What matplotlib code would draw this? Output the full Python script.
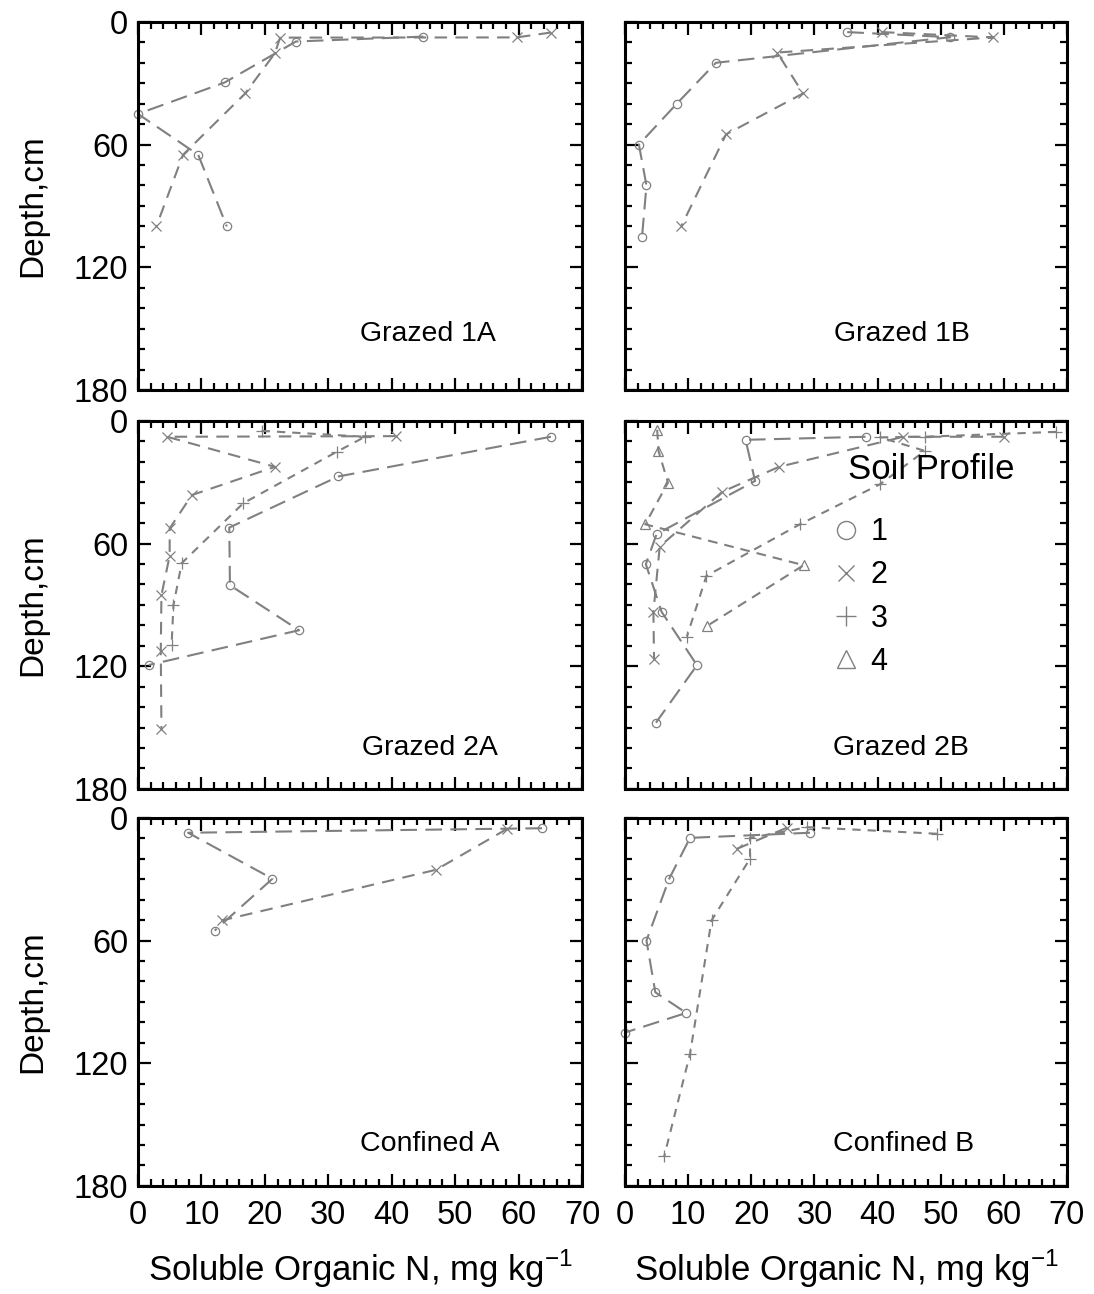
import matplotlib
matplotlib.use("Agg")
import matplotlib.pyplot as plt
from matplotlib.lines import Line2D
from matplotlib.ticker import MultipleLocator

plt.rcParams['font.family'] = ['Liberation Sans', 'DejaVu Sans']
plt.rcParams['lines.scale_dashes'] = False

# --- data: soluble organic N (mg/kg) vs depth (cm), per soil profile ---
g1a_p1_n = [45.0, 24.9, 13.7, 0.0, 9.5, 14.0]
g1a_p1_d = [7.2, 9.6, 29.6, 45.0, 65.0, 100.0]
g1a_p2_n = [65.1, 59.7, 22.4, 21.6, 16.9, 7.1, 2.9]
g1a_p2_d = [5.2, 7.6, 7.7, 15.3, 35.0, 65.0, 100.0]

g1b_p1_n = [35.2, 51.5, 14.4, 8.2, 2.2, 3.4, 2.7]
g1b_p1_d = [5.0, 7.5, 20.0, 40.0, 60.0, 80.0, 105.0]
g1b_p2_n = [40.7, 58.3, 24.1, 28.2, 16.0, 8.9]
g1b_p2_d = [5.0, 7.6, 15.0, 35.0, 55.0, 100.0]

g2a_p1_n = [65.1, 31.6, 14.4, 14.5, 25.4, 1.7]
g2a_p1_d = [7.8, 27.2, 52.2, 80.4, 102.4, 119.4]
g2a_p2_n = [40.6, 4.6, 21.6, 8.5, 5.0, 5.0, 3.7, 3.6, 3.7]
g2a_p2_d = [7.5, 7.8, 22.5, 36.3, 52.6, 65.9, 85.3, 112.5, 150.8]
g2a_p3_n = [19.5, 35.8, 31.3, 16.6, 6.9, 5.6, 5.3]
g2a_p3_d = [4.9, 7.8, 15.2, 40.3, 69.6, 90.0, 109.6]

g2b_p1_n = [38.1, 19.1, 20.6, 5.0, 3.3, 5.8, 11.4, 4.9]
g2b_p1_d = [7.8, 9.3, 29.4, 55.4, 70.1, 93.4, 119.5, 147.6]
g2b_p2_n = [60.0, 44.1, 24.4, 15.4, 5.5, 4.5, 4.6]
g2b_p2_d = [7.8, 7.8, 22.5, 34.7, 61.5, 93.4, 116.6]
g2b_p3_n = [68.3, 47.5, 40.4, 47.5, 40.4, 27.7, 12.9, 9.8]
g2b_p3_d = [5.4, 7.8, 8.1, 14.7, 31.0, 50.6, 75.8, 105.5]
g2b_p4_n = [5.1, 5.3, 6.8, 3.2, 28.3, 13.0]
g2b_p4_d = [4.4, 14.7, 30.2, 50.6, 70.6, 100.3]

ca_p1_n = [63.7, 7.9, 21.2, 12.1]
ca_p1_d = [5.1, 7.3, 29.8, 55.1]
ca_p2_n = [58.2, 47.0, 13.2]
ca_p2_d = [5.4, 25.4, 50.2]

cb_p1_n = [29.3, 10.3, 7.0, 3.4, 4.8, 9.7, 0.0]
cb_p1_d = [7.3, 9.8, 29.8, 60.0, 85.3, 95.4, 105.0]
cb_p2_n = [25.6, 17.7]
cb_p2_d = [4.9, 15.2]
cb_p3_n = [49.4, 28.9, 19.8, 19.8, 13.7, 10.3, 6.2]
cb_p3_d = [7.8, 4.6, 9.8, 20.0, 50.2, 115.4, 165.6]

panel_names = ['Grazed 1A', 'Grazed 1B', 'Grazed 2A', 'Grazed 2B', 'Confined A', 'Confined B']
profile_labels = ['1', '2', '3', '4']

panels = [
    {1: (g1a_p1_n, g1a_p1_d), 2: (g1a_p2_n, g1a_p2_d)},
    {1: (g1b_p1_n, g1b_p1_d), 2: (g1b_p2_n, g1b_p2_d)},
    {1: (g2a_p1_n, g2a_p1_d), 2: (g2a_p2_n, g2a_p2_d), 3: (g2a_p3_n, g2a_p3_d)},
    {1: (g2b_p1_n, g2b_p1_d), 2: (g2b_p2_n, g2b_p2_d), 3: (g2b_p3_n, g2b_p3_d),
     4: (g2b_p4_n, g2b_p4_d)},
    {1: (ca_p1_n, ca_p1_d), 2: (ca_p2_n, ca_p2_d)},
    {1: (cb_p1_n, cb_p1_d), 2: (cb_p2_n, cb_p2_d), 3: (cb_p3_n, cb_p3_d)},
]

# --- styles ---
grey = '#808080'
markers = {1: 'o', 2: 'x', 3: '+', 4: '^'}
msizes = {1: 6, 2: 6.5, 3: 8, 4: 6.5}
leg_sizes = {1: 13, 2: 11, 3: 15, 4: 13}
dashes = {1: (12, 6), 2: (9, 6), 3: (6, 5), 4: (7, 5)}

fig = plt.figure(figsize=(10.94, 12.94), dpi=100)
lefts = [0.1261, 0.5713]
widths = [0.4059, 0.4040]
bottoms = [0.6986, 0.3903, 0.0835]
height = 0.2845
label_pos = [(0.653, 0.133), (0.627, 0.133), (0.657, 0.092),
             (0.624, 0.092), (0.658, 0.095), (0.630, 0.095)]

axes = []
for i, series in enumerate(panels):
    row, col = divmod(i, 2)
    ax = fig.add_axes([lefts[col], bottoms[row], widths[col], height])
    axes.append(ax)
    for p, (n, d) in series.items():
        ax.plot(n, d, color=grey, lw=1.5, dashes=dashes[p], marker=markers[p],
                ms=msizes[p], mfc='none', mec=grey, mew=0.9, clip_on=False)
    ax.set_xlim(0, 70)
    ax.set_ylim(180, 0)
    ax.xaxis.set_major_locator(MultipleLocator(10))
    ax.xaxis.set_minor_locator(MultipleLocator(2))
    ax.yaxis.set_major_locator(MultipleLocator(60))
    ax.yaxis.set_minor_locator(MultipleLocator(10))
    ax.tick_params(which='both', direction='in', top=True, right=True,
                   width=1.6, labelsize=23.5)
    ax.tick_params(which='major', length=9)
    ax.tick_params(axis='x', which='major', pad=10)
    ax.tick_params(axis='y', which='major', pad=7)
    ax.tick_params(which='minor', length=5)
    for s in ax.spines.values():
        s.set_linewidth(2.2)
    if row < 2:
        ax.tick_params(labelbottom=False)
    else:
        ax.set_xlabel('Soluble Organic N, mg kg$^{\\mathregular{-1}}$',
                      fontsize=25, labelpad=12)
    if col == 1:
        ax.tick_params(labelleft=False)
    else:
        ax.set_ylabel('Depth,cm', fontsize=24, labelpad=18)
    lx, ly = label_pos[i]
    ax.text(lx, ly, panel_names[i], transform=ax.transAxes, fontsize=20.5,
            ha='center', va='baseline')

# legend for the soil profiles, in the Grazed 2B panel
leg_ax = axes[3]
leg_ax.text(0.5045, 0.843, 'Soil Profile', transform=leg_ax.transAxes,
            fontsize=25, ha='left', va='baseline')
handles = [Line2D([], [], ls='none', marker=markers[p], ms=leg_sizes[p],
                  mfc='none', mec=grey, mew=1.0) for p in (1, 2, 3, 4)]
leg_ax.legend(handles, profile_labels, frameon=False, loc='upper left',
              bbox_to_anchor=(0.4586, 0.738), fontsize=22, handletextpad=0.2,
              labelspacing=0.43, handlelength=1.2, borderaxespad=0, borderpad=0)

fig.savefig('out.png', dpi=100)
